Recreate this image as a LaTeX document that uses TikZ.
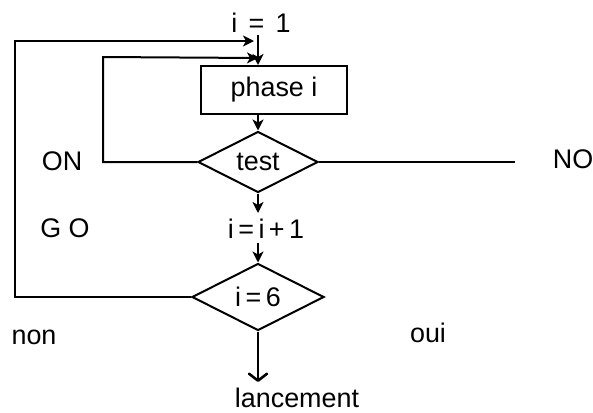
\documentclass[tikz,border=0pt]{standalone}
\usepackage{fontspec}
\setmainfont{Liberation Sans}
\usetikzlibrary{arrows.meta,shapes.geometric}
\begin{document}
\begin{tikzpicture}[x=1bp,y=-1bp,
  every node/.style={font=\fontsize{27}{31}\selectfont, inner sep=0pt},
  ln/.style={line width=2bp, line join=miter},
  arr/.style={ln, -{Stealth[length=11bp,width=11bp,inset=3bp]}},
  endarr/.style={ln, -{Straight Barb[length=7bp,width=18bp,line width=2.6bp,round]}},
  boxst/.style={draw, line width=2bp, minimum width=146bp, minimum height=48bp},
  diam/.style={draw, diamond, line width=2bp, inner sep=0pt}
]
\useasboundingbox (0,0) rectangle (593,412);

% nodes
\node[boxst] (box) at (274,90) {phase i};
\node[diam, minimum width=120bp, minimum height=60bp] (test) at (258,162) {test};
\node[diam, minimum width=132bp, minimum height=67bp] (d6) at (258,297) {i\,=\,6};

% text labels
\node[anchor=base] (i1) at (261,32) {i\hspace{0.42em}=\hspace{0.42em}1};
\node[anchor=base] (on) at (62,170) {ON};
\node[anchor=base] (no) at (573,168) {NO};
\node[anchor=base] (go) at (65,237) {G O};
\node[anchor=base] (inc) at (266,238) {i\,=\,i\,+\,1};
\node[anchor=base] (non) at (34,344) {non};
\node[anchor=base] (oui) at (428,342) {oui};
\node[anchor=base] (lanc) at (297,407) {lancement};

% coordinates
\coordinate (top) at (258,35);
\coordinate (oL) at (15,41);
\coordinate (oEnd) at (254,41);
\coordinate (iL) at (103,57);
\coordinate (iEnd) at (258,58);
\coordinate (a1) at (258,213);
\coordinate (a2) at (258,243);
\coordinate (a3) at (258,382);
\coordinate (noEnd) at (515,162);

% connectors
\draw[arr] (top) -- (top |- box.north);
\draw[arr] (d6.west) -| (oL) -- (oEnd);
\draw[arr] (test.west) -| (iL) -- (iEnd);
\draw[arr] (box.south -| test.north) -- (test.north);
\draw[arr] (test.south) -- (a1);
\draw[arr] (a2) -- (d6.north);
\draw[endarr] (d6.south) -- (a3);
\draw[ln] (test.east) -- (noEnd);
\end{tikzpicture}
\end{document}
